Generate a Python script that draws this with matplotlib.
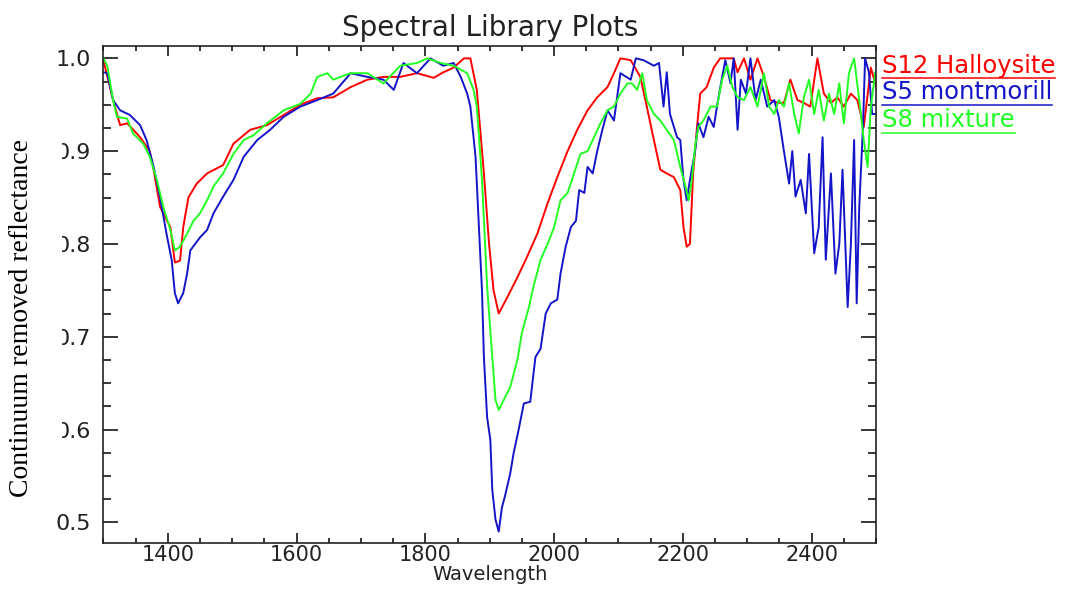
import matplotlib
matplotlib.use("Agg")
import matplotlib.pyplot as plt
from matplotlib.ticker import MultipleLocator, FormatStrFormatter
from matplotlib.patches import Rectangle
from matplotlib.lines import Line2D

# S12 Halloysite (red)
halloysite_wl = [1300, 1315, 1326, 1337, 1357, 1372, 1378, 1388, 1404, 1411,
                 1419, 1424, 1432, 1445, 1461, 1486, 1502, 1528, 1554, 1580,
                 1606, 1632, 1657, 1684, 1710, 1735, 1761, 1787, 1813, 1828,
                 1844, 1860, 1870, 1880, 1891, 1899, 1906, 1914, 1927, 1943,
                 1958, 1974, 1990, 2005, 2021, 2036, 2052, 2067, 2083, 2093,
                 2103, 2119, 2134, 2144, 2155, 2165, 2175, 2186, 2196, 2201,
                 2206, 2211, 2216, 2222, 2227, 2237, 2248, 2258, 2268, 2279,
                 2285, 2295, 2305, 2316, 2326, 2336, 2347, 2357, 2367, 2378,
                 2388, 2398, 2409, 2419, 2430, 2440, 2450, 2461, 2471, 2481,
                 2492, 2500]
halloysite = [0.998, 0.955, 0.928, 0.93, 0.915, 0.90, 0.88, 0.84, 0.818, 0.78,
              0.782, 0.818, 0.85, 0.865, 0.876, 0.885, 0.908, 0.923, 0.928, 0.939,
              0.95, 0.957, 0.958, 0.969, 0.977, 0.98, 0.98, 0.984, 0.979, 0.985,
              0.99, 1.0, 1.0, 0.966, 0.876, 0.80, 0.75, 0.725, 0.742, 0.764,
              0.786, 0.811, 0.844, 0.872, 0.90, 0.923, 0.944, 0.958, 0.969, 0.984,
              1.0, 0.998, 0.98, 0.948, 0.912, 0.88, 0.876, 0.872, 0.858, 0.818,
              0.797, 0.80, 0.876, 0.926, 0.962, 0.969, 0.99, 1.0, 1.0, 1.0,
              0.985, 1.0, 0.977, 1.0, 0.98, 0.955, 0.952, 0.952, 0.977, 0.955,
              0.952, 0.948, 1.0, 0.962, 0.952, 0.958, 0.948, 0.962, 0.955, 0.926,
              0.99, 0.97]

# S5 montmorillonite (blue)
montmor_wl = [1300, 1306, 1315, 1326, 1341, 1357, 1367, 1378, 1388, 1398,
              1406, 1411, 1416, 1424, 1430, 1435, 1450, 1461, 1471, 1486,
              1502, 1518, 1539, 1559, 1580, 1606, 1632, 1657, 1684, 1710,
              1735, 1751, 1766, 1787, 1808, 1828, 1844, 1855, 1865, 1870,
              1878, 1888, 1891, 1896, 1901, 1904, 1909, 1914, 1919, 1924,
              1932, 1937, 1945, 1953, 1963, 1971, 1979, 1987, 1995, 2005,
              2010, 2018, 2026, 2034, 2039, 2047, 2052, 2060, 2067, 2075,
              2083, 2093, 2103, 2119, 2127, 2139, 2155, 2163, 2170, 2175,
              2180, 2191, 2196, 2201, 2206, 2211, 2219, 2224, 2232, 2240,
              2248, 2253, 2261, 2266, 2274, 2279, 2285, 2290, 2298, 2305,
              2313, 2321, 2331, 2342, 2349, 2357, 2365, 2370, 2375, 2383,
              2391, 2396, 2404, 2411, 2417, 2422, 2430, 2437, 2443, 2448,
              2456, 2461, 2466, 2470, 2474, 2480, 2483, 2489, 2494, 2500]
montmor = [0.985, 0.984, 0.955, 0.944, 0.939, 0.928, 0.912, 0.883, 0.85, 0.811,
           0.783, 0.747, 0.736, 0.747, 0.768, 0.793, 0.807, 0.815, 0.833, 0.851,
           0.869, 0.894, 0.912, 0.923, 0.937, 0.948, 0.955, 0.962, 0.984, 0.98,
           0.977, 0.966, 0.995, 0.984, 1.0, 0.992, 0.995, 0.98, 0.962, 0.948,
           0.894, 0.75, 0.678, 0.613, 0.589, 0.535, 0.503, 0.49, 0.516, 0.529,
           0.553, 0.574, 0.60, 0.628, 0.63, 0.678, 0.687, 0.725, 0.736, 0.74,
           0.768, 0.797, 0.818, 0.825, 0.858, 0.855, 0.883, 0.876, 0.90, 0.923,
           0.944, 0.933, 0.984, 0.977, 1.0, 0.998, 0.992, 0.995, 0.948, 0.985,
           0.94, 0.915, 0.912, 0.869, 0.847, 0.869, 0.90, 0.93, 0.915, 0.937,
           0.926, 0.948, 0.98, 0.998, 0.973, 1.0, 0.923, 0.977, 0.962, 1.0,
           0.955, 0.977, 0.948, 0.955, 0.937, 0.90, 0.865, 0.90, 0.851, 0.869,
           0.833, 0.897, 0.79, 0.818, 0.915, 0.783, 0.876, 0.768, 0.80, 0.88,
           0.732, 0.80, 0.912, 0.736, 0.84, 0.93, 1.0, 0.985, 0.94, 0.94]

# S8 mixture (green)
mixture_wl = [1300, 1306, 1315, 1321, 1337, 1346, 1362, 1372, 1383, 1393,
              1404, 1411, 1419, 1430, 1440, 1450, 1461, 1471, 1486, 1502,
              1518, 1533, 1554, 1580, 1606, 1622, 1632, 1648, 1657, 1684,
              1710, 1735, 1761, 1787, 1803, 1824, 1844, 1865, 1875, 1880,
              1888, 1896, 1904, 1909, 1914, 1922, 1932, 1943, 1950, 1961,
              1968, 1979, 1990, 2000, 2010, 2021, 2031, 2041, 2052, 2062,
              2072, 2083, 2093, 2103, 2114, 2121, 2129, 2137, 2144, 2155,
              2165, 2175, 2186, 2196, 2204, 2209, 2214, 2219, 2224, 2232,
              2243, 2253, 2261, 2269, 2277, 2285, 2295, 2305, 2316, 2326,
              2334, 2342, 2349, 2357, 2365, 2373, 2380, 2388, 2396, 2404,
              2411, 2419, 2427, 2435, 2443, 2450, 2458, 2466, 2474, 2481,
              2487, 2492, 2499]
mixture = [1.0, 0.992, 0.955, 0.937, 0.935, 0.919, 0.908, 0.894, 0.869, 0.84,
           0.815, 0.793, 0.797, 0.811, 0.825, 0.833, 0.847, 0.862, 0.876, 0.897,
           0.912, 0.917, 0.93, 0.944, 0.951, 0.962, 0.98, 0.984, 0.977, 0.984,
           0.984, 0.973, 0.992, 0.995, 1.0, 0.995, 0.992, 0.984, 0.966, 0.948,
           0.869, 0.754, 0.678, 0.632, 0.621, 0.632, 0.646, 0.675, 0.704, 0.732,
           0.754, 0.783, 0.80, 0.818, 0.847, 0.855, 0.876, 0.897, 0.90, 0.915,
           0.93, 0.944, 0.948, 0.962, 0.973, 0.973, 0.966, 0.984, 0.955, 0.94,
           0.933, 0.923, 0.912, 0.883, 0.862, 0.847, 0.869, 0.905, 0.926, 0.933,
           0.948, 0.948, 0.977, 0.992, 0.969, 0.958, 0.955, 0.969, 0.948, 0.984,
           0.948, 0.94, 0.955, 0.948, 0.973, 0.94, 0.919, 0.958, 0.977, 0.94,
           0.966, 0.933, 0.962, 0.94, 0.973, 0.93, 0.984, 1.0, 0.955, 0.912,
           0.883, 0.948, 0.985]

names = ["S12 Halloysite", "S5 montmorill", "S8 mixture"]
colors = ["#ff0000", "#1414c8", "#22ff22"]

W, H = 1068, 592
fig = plt.figure(figsize=(W / 100, H / 100), dpi=100)
ax = fig.add_axes([103.4 / W, 1 - 543 / H, (876 - 103.4) / W, (543 - 46) / H])

for wl, val, c in zip([halloysite_wl, montmor_wl, mixture_wl],
                      [halloysite, montmor, mixture], colors):
    ax.plot(wl, val, color=c, lw=1.4)

ax.set_xlim(1300, 2500)
ax.set_ylim(0.4777, 1.0133)
ax.xaxis.set_major_locator(MultipleLocator(200))
ax.xaxis.set_minor_locator(MultipleLocator(50))
ax.yaxis.set_major_locator(MultipleLocator(0.1))
ax.yaxis.set_minor_locator(MultipleLocator(0.025))
ax.yaxis.set_major_formatter(FormatStrFormatter("%.1f"))
ax.tick_params(which="both", direction="in", top=True, right=True, width=1.1,
               labelsize=15, labelcolor="#222222")
ax.tick_params(axis="x", which="major", length=7.2, pad=1.5)
ax.tick_params(axis="x", which="minor", length=3.6)
ax.tick_params(axis="y", which="major", length=11, pad=9, labelsize=16)
ax.tick_params(axis="y", which="minor", length=5.5)
for s in ax.spines.values():
    s.set_linewidth(1.2)
    s.set_color("#222222")

ax.set_xlabel("Wavelength", fontsize=14, color="#222222", labelpad=0)
fig.text(490 / W, 1 - 28 / H, "Spectral Library Plots", ha="center", va="center",
         fontsize=20, color="#222222")
fig.text(22 / W, 1 - 318 / H, "Continuum removed reflectance", rotation=90,
         ha="center", va="center", fontsize=20, family="Liberation Serif",
         color="black", zorder=3)

# legend text with underlines at the right
baselines = [73, 99, 127]
unders = [78, 105, 133]
leg = []
for name, c, b in zip(names, colors, baselines):
    leg.append(fig.text(882 / W, 1 - b / H, name, color=c, fontsize=17.5,
                        va="baseline", ha="left"))

fig.canvas.draw()
r = fig.canvas.get_renderer()
for t, c, u in zip(leg, colors, unders):
    e = t.get_window_extent(r)
    fig.add_artist(Line2D([e.x0 / W, e.x1 / W], [1 - u / H, 1 - u / H],
                          color=c, lw=1.1, transform=fig.transFigure))

# the y label's white box hides the left part of the middle tick labels
for lab in ax.get_yticklabels():
    if lab.get_text() == "0.9":
        e = lab.get_window_extent(r)
        right = e.x0 + e.width * 0.17
        fig.add_artist(Rectangle((0, 1 - 505 / H), right / W, (505 - 130) / H,
                                 facecolor="white", edgecolor="none",
                                 transform=fig.transFigure, zorder=2))

fig.savefig("out.png", dpi=100)
